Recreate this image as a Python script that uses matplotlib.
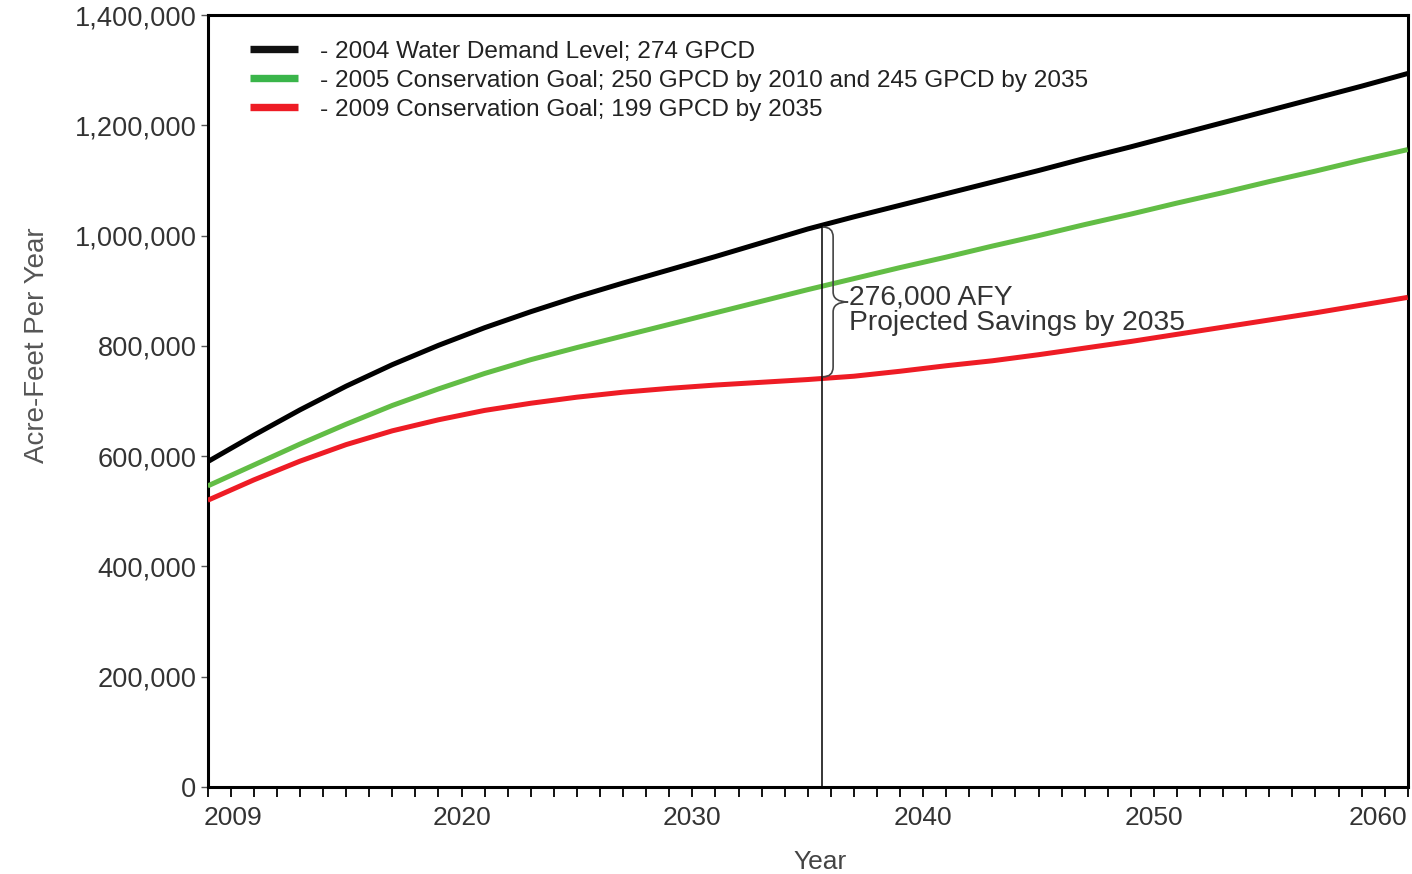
import numpy as np
import matplotlib
matplotlib.use("Agg")
import matplotlib.pyplot as plt
import matplotlib.transforms as mtrans
from matplotlib.lines import Line2D
from matplotlib.path import Path
from matplotlib.patches import PathPatch
from matplotlib.ticker import FuncFormatter, FixedLocator

plt.rcParams['font.family'] = ['Liberation Sans', 'DejaVu Sans']

# ---------------- data ----------------
years = list(range(2009, 2062, 2))
demand_2004 = [590000, 638000, 684000, 727000, 766000, 801000, 833000, 862000, 889000, 914000,
               938000, 962000, 987000, 1012000, 1034000, 1055000, 1076000, 1097000, 1118000, 1140000,
               1161000, 1183000, 1205000, 1227000, 1249000, 1271000, 1294000]
goal_2005 = [546000, 584000, 622000, 658000, 692000, 722000, 750000, 775000, 797000, 818000,
             839000, 860000, 881000, 902000, 922000, 942000, 961000, 981000, 1000000, 1020000,
             1039000, 1059000, 1078000, 1098000, 1117000, 1137000, 1156000]
goal_2009 = [520000, 557000, 591000, 621000, 646000, 666000, 683000, 696000, 707000, 716000,
             723000, 729000, 734000, 739000, 745000, 754000, 764000, 773000, 784000, 796000,
             808000, 821000, 834000, 847000, 860000, 874000, 888000]

series_labels = ["- 2004 Water Demand Level; 274 GPCD",
                 "- 2005 Conservation Goal; 250 GPCD by 2010 and 245 GPCD by 2035",
                 "- 2009 Conservation Goal; 199 GPCD by 2035"]
line_colors = ["#000000", "#62BD45", "#EE1C25"]
legend_colors = ["#111111", "#3AB54A", "#EE1C25"]

x_major = [2009, 2020, 2030, 2040, 2050, 2060]
y_ticks = [0, 200000, 400000, 600000, 800000, 1000000, 1200000, 1400000]
marker_year = 2035.6
annot_text = "276,000 AFY\nProjected Savings by 2035"

# ---------------- figure ----------------
fig = plt.figure(figsize=(14.12, 8.74), dpi=100)
ax = fig.add_axes([0.1471, 0.0995, 0.8499, 0.8833])

for vals, col in zip([demand_2004, goal_2005, goal_2009], line_colors):
    ax.plot(years, vals, color=col, lw=3.6, solid_capstyle='butt', zorder=3)

ax.set_xlim(2009, 2061)
ax.set_ylim(0, 1400000)

# vertical marker line
top_val = np.interp(marker_year, years, demand_2004)
bot_val = np.interp(marker_year, years, goal_2009)
ax.plot([marker_year, marker_year], [0, top_val], color='black', lw=1.1, zorder=4)

# curly brace
x0 = marker_year + 0.05
xb = marker_year + 0.5
xt = marker_year + 1.15
ymid = (top_val + bot_val) / 2
r = 18000
verts = [(x0, top_val - 3000), (xb, top_val - 3000), (xb, top_val - 3000 - r),
         (xb, ymid + r),
         (xb, ymid), (xt, ymid),
         (xb, ymid), (xb, ymid - r),
         (xb, bot_val + 3000 + r),
         (xb, bot_val + 3000), (x0, bot_val + 3000)]
codes = [Path.MOVETO, Path.CURVE3, Path.CURVE3,
         Path.LINETO,
         Path.CURVE3, Path.CURVE3,
         Path.CURVE3, Path.CURVE3,
         Path.LINETO,
         Path.CURVE3, Path.CURVE3]
ax.add_patch(PathPatch(Path(verts, codes), fill=False, edgecolor='#444444', lw=1.2, zorder=4))

ax.text(marker_year + 1.2, ymid - 15000, annot_text, fontsize=20.3, color='#333333',
        ha='left', va='center', linespacing=0.95, zorder=5)

# ticks
ax.xaxis.set_major_locator(FixedLocator(x_major))
ax.xaxis.set_minor_locator(FixedLocator(list(range(2009, 2062))))
ax.set_xticklabels([str(v) for v in x_major])
ax.set_yticks(y_ticks)
ax.yaxis.set_major_formatter(FuncFormatter(lambda v, p: f"{int(v):,}"))

ax.tick_params(axis='x', which='both', direction='out', length=7.5, width=1.3, color='black',
               labelsize=19, labelcolor='#333333', pad=6)
ax.tick_params(axis='y', direction='out', length=5, width=1.0, color='#555555',
               labelsize=19.6, labelcolor='#333333', pad=3)

labs = ax.get_xticklabels()
labs[0].set_transform(labs[0].get_transform() + mtrans.ScaledTranslation(0.25, 0, fig.dpi_scale_trans))
labs[-1].set_transform(labs[-1].get_transform() + mtrans.ScaledTranslation(-0.07, 0, fig.dpi_scale_trans))

for s in ax.spines.values():
    s.set_linewidth(2.2)
    s.set_color('black')

ax.set_xlabel("Year", fontsize=19, color='#444444')
ax.xaxis.set_label_coords(0.510, -0.081)
ax.set_ylabel("Acre-Feet Per Year", fontsize=20, color='#555555')
ax.yaxis.set_label_coords(-0.131, 0.5725)

handles = [Line2D([0], [0], color=c, lw=5.3, solid_capstyle='butt') for c in legend_colors]
leg = ax.legend(handles, series_labels, loc='upper left', bbox_to_anchor=(0.035, 0.967),
                frameon=False, fontsize=17.6, handlelength=1.96, handletextpad=0.9,
                labelspacing=0.29, borderpad=0, borderaxespad=0)
for t in leg.get_texts():
    t.set_color('#222222')

fig.savefig("out.png", dpi=100)
